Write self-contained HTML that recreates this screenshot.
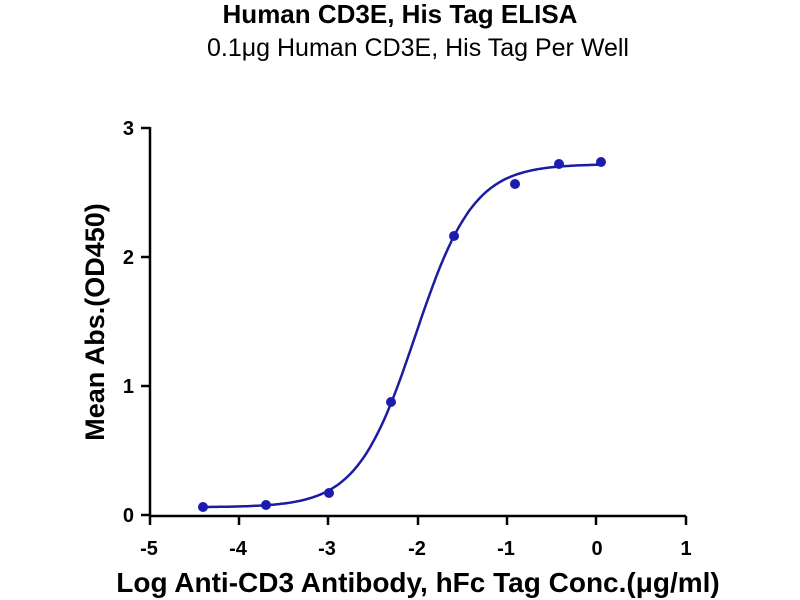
<!DOCTYPE html>
<html><head><meta charset="utf-8"><style>
body{margin:0;background:#fff;}
svg{display:block;font-family:"Liberation Sans",Arial,sans-serif;}
</style></head><body>
<svg width="800" height="600" xmlns="http://www.w3.org/2000/svg">
<text x="400" y="23" text-anchor="middle" font-size="26" font-weight="bold">Human CD3E, His Tag ELISA</text>
<text x="418" y="56" text-anchor="middle" font-size="25">0.1μg Human CD3E, His Tag Per Well</text>
<g stroke="#000" stroke-width="2.5" fill="none">
<line x1="150" y1="127" x2="150" y2="516"/>
<line x1="149" y1="516" x2="686" y2="516"/>
<line x1="141" y1="128" x2="150" y2="128"/>
<line x1="141" y1="257" x2="150" y2="257"/>
<line x1="141" y1="386" x2="150" y2="386"/>
<line x1="141" y1="515" x2="150" y2="515"/>
<line x1="150" y1="516" x2="150" y2="525"/>
<line x1="239" y1="516" x2="239" y2="525"/>
<line x1="328" y1="516" x2="328" y2="525"/>
<line x1="418" y1="516" x2="418" y2="525"/>
<line x1="507" y1="516" x2="507" y2="525"/>
<line x1="596" y1="516" x2="596" y2="525"/>
<line x1="686" y1="516" x2="686" y2="525"/>
</g>
<g font-size="20" font-weight="bold" text-anchor="end">
<text x="134" y="135">3</text><text x="134" y="264">2</text><text x="134" y="393">1</text><text x="134" y="522">0</text>
</g>
<g font-size="20" font-weight="bold" text-anchor="middle">
<text x="149" y="555">-5</text><text x="238" y="555">-4</text><text x="327" y="555">-3</text><text x="417" y="555">-2</text><text x="506" y="555">-1</text><text x="597" y="555">0</text><text x="686" y="555">1</text>
</g>
<text x="418" y="592" text-anchor="middle" font-size="28" font-weight="bold">Log Anti-CD3 Antibody, hFc Tag Conc.(μg/ml)</text>
<text transform="translate(104,322) rotate(-90)" text-anchor="middle" font-size="27" font-weight="bold">Mean Abs.(OD450)</text>
<path id="curve" fill="none" stroke="#1c1ca0" stroke-width="2.5"/>
<g fill="#1c1cb0">
<circle cx="203" cy="507" r="5"/><circle cx="266" cy="505" r="5"/><circle cx="329" cy="493" r="5"/><circle cx="391" cy="402" r="5"/><circle cx="454" cy="236" r="5"/><circle cx="515" cy="184" r="5"/><circle cx="559" cy="164" r="5"/><circle cx="601" cy="162" r="5"/>
</g>
<script>
var d="";for(var i=0;i<=200;i++){var x=-4.4+i*(4.45/200);var y=0.06+2.66/(1+Math.pow(10,(-2.03-x)*1.33));var px=150+(x+5)*89.33,py=515-y*129;d+=(i?"L":"M")+px.toFixed(1)+","+py.toFixed(1);}
document.getElementById("curve").setAttribute("d",d);
</script>
</svg>
</body></html>
